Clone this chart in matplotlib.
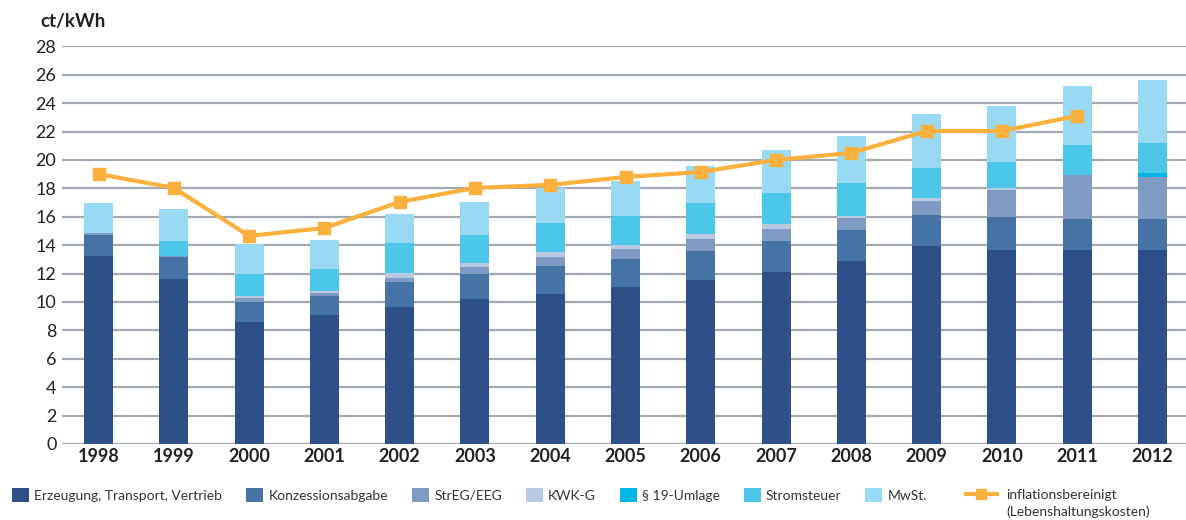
import matplotlib.pyplot as plt
import numpy as np

plt.rcParams['font.family'] = ['Lato', 'DejaVu Sans']

years = ['1998', '1999', '2000', '2001', '2002', '2003', '2004', '2005',
         '2006', '2007', '2008', '2009', '2010', '2011', '2012']

# ct/kWh, Bestandteile des Strompreises
erzeugung = [13.25, 11.62, 8.60, 9.08, 9.65, 10.21, 10.56, 11.06, 11.55, 12.11, 12.89, 13.94, 13.66, 13.66, 13.66]
konzession = [1.47, 1.55, 1.41, 1.34, 1.76, 1.76, 1.98, 1.97, 2.04, 2.19, 2.18, 2.19, 2.33, 2.19, 2.19]
streg_eeg = [0.14, 0.10, 0.28, 0.21, 0.28, 0.49, 0.63, 0.70, 0.85, 0.84, 0.85, 0.98, 1.90, 3.09, 2.95]
kwk = [0.00, 0.00, 0.13, 0.14, 0.35, 0.29, 0.35, 0.28, 0.35, 0.35, 0.14, 0.21, 0.14, 0.03, 0.00]
umlage19 = [0.00, 0.00, 0.00, 0.00, 0.00, 0.00, 0.00, 0.00, 0.00, 0.00, 0.00, 0.00, 0.00, 0.00, 0.28]
stromsteuer = [0.00, 1.00, 1.55, 1.55, 2.11, 1.97, 2.04, 2.05, 2.18, 2.19, 2.32, 2.12, 1.83, 2.05, 2.12]
mwst = [2.10, 2.25, 2.11, 2.05, 2.05, 2.32, 2.47, 2.46, 2.61, 3.02, 3.31, 3.80, 3.94, 4.22, 4.43]

inflation = [19.01, 18.03, 14.65, 15.21, 17.04, 18.03, 18.24, 18.80, 19.15, 20.00, 20.49, 22.04, 22.04, 23.10]

series = [
    ('Erzeugung, Transport, Vertrieb', erzeugung, '#2d5089'),
    ('Konzessionsabgabe', konzession, '#4673a5'),
    ('StrEG/EEG', streg_eeg, '#7f9bc3'),
    ('KWK-G', kwk, '#b9c9e1'),
    ('§ 19-Umlage', umlage19, '#00b5e5'),
    ('Stromsteuer', stromsteuer, '#4dc7e9'),
    ('MwSt.', mwst, '#98daf3'),
]

W, H = 1186, 520
fig = plt.figure(figsize=(W / 100, H / 100), dpi=100)
ax = fig.add_axes([62 / W, 1 - 444 / H, 1 - 62 / W, (444 - 46.3) / H])

x = np.arange(len(years))
bottom = np.zeros(len(years))
handles = []
for label, vals, color in series:
    b = ax.bar(x, vals, width=0.385, bottom=bottom, color=color, label=label, zorder=3)
    handles.append(b)
    bottom += np.array(vals)

line, = ax.plot(x[:len(inflation)], inflation, color='#f9b03c', lw=3, marker='s',
                markersize=8, zorder=4, label='inflationsbereinigt')

ax.set_xlim(-0.485, 14.445)
ax.set_ylim(0, 28)
ax.set_yticks(range(0, 29, 2))
ax.set_xticks(x)
ax.set_xticklabels(years, fontweight='bold', fontsize=13, color='#222222')
ax.tick_params(axis='y', labelsize=13, colors='#222222', length=0, pad=4)
ax.tick_params(axis='x', length=0, pad=3)
ax.grid(axis='y', color='#a3a9b1', lw=1.6, zorder=0)
ax.set_axisbelow(True)
for s in ax.spines.values():
    s.set_visible(False)

fig.text(40 / W, 1 - 22 / H, 'ct/kWh', fontsize=13.5, fontweight='bold',
         color='#222222', va='center', ha='left')

# Legende: Balken
leg1 = fig.legend(handles=handles, loc='center left', bbox_to_anchor=(12 / W, 1 - 495 / H),
                  ncol=7, frameon=False, fontsize=10, handlelength=1.22,
                  handleheight=1.22, handletextpad=0.38, columnspacing=1.72,
                  borderpad=0, borderaxespad=0)
# Legende: Linie
leg2 = fig.legend(handles=[line], loc='center left', bbox_to_anchor=(966 / W, 1 - 495 / H),
                  frameon=False, fontsize=10, handlelength=2.2, handletextpad=0.7,
                  borderpad=0, borderaxespad=0, markerscale=0.9)
for t in leg1.get_texts() + leg2.get_texts():
    t.set_color('#333333')

fig.canvas.draw()
bb = leg2.get_texts()[0].get_window_extent()
fig.text(bb.x0 / W, (bb.y0 - 4) / H, '(Lebenshaltungskosten)', fontsize=10,
         color='#333333', ha='left', va='top')

fig.savefig('out.png', dpi=100)
